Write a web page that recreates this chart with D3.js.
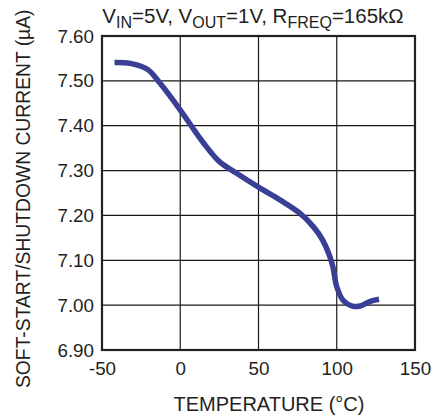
<!DOCTYPE html>
<html><head><meta charset="utf-8">
<script src="https://cdn.jsdelivr.net/npm/d3@7"></script>
<style>
html,body{margin:0;padding:0;background:#fff;}
svg{display:block;font-family:"Liberation Sans",Arial,sans-serif;}
</style></head>
<body>
<svg id="chart" width="437" height="415"></svg>
<script>
const temperature = [-42, -32, -21, -13, 0, 6, 15, 25, 36, 50, 64, 76, 85, 91, 97, 100, 104, 110, 115, 121, 127];
const current = [7.541, 7.539, 7.526, 7.495, 7.435, 7.405, 7.361, 7.320, 7.294, 7.263, 7.234, 7.206, 7.175, 7.145, 7.093, 7.041, 7.011, 6.998, 6.998, 7.008, 7.013];
const xTicks = [-50, 0, 50, 100, 150];
const yTicks = [6.90, 7.00, 7.10, 7.20, 7.30, 7.40, 7.50, 7.60];
const xTitle = "TEMPERATURE (°C)";
const yTitle = "SOFT-START/SHUTDOWN CURRENT (µA)";

const svg = d3.select("#chart");
const L = 102, R = 415, T = 36, B = 350;
const x = d3.scaleLinear().domain([-50, 150]).range([L, R]);
const y = d3.scaleLinear().domain([6.9, 7.6]).range([B, T]);
const fs = 18.8;
const ts = 20;

// grid
const g = svg.append("g");
g.selectAll(".vg").data(xTicks).join("line")
  .attr("x1", d => x(d)).attr("x2", d => x(d)).attr("y1", T).attr("y2", B)
  .attr("stroke", "#1a1a1a").attr("stroke-width", 1.2);
g.selectAll(".hg").data(yTicks).join("line")
  .attr("x1", L).attr("x2", R).attr("y1", d => y(d)).attr("y2", d => y(d))
  .attr("stroke", "#1a1a1a").attr("stroke-width", 1.2);
g.append("rect").attr("x", L).attr("y", T).attr("width", R - L).attr("height", B - T)
  .attr("fill", "none").attr("stroke", "#231f20").attr("stroke-width", 2.2);

// axes labels via d3 axes
const yAxis = svg.append("g").attr("transform", `translate(${L},0)`)
  .call(d3.axisLeft(y).tickValues(yTicks).tickFormat(d3.format(".2f")).tickSize(0).tickPadding(8));
yAxis.select(".domain").remove();
yAxis.selectAll("text").attr("font-size", fs).attr("fill", "#231f20").attr("font-family", "Liberation Sans, Arial, sans-serif");

const xAxis = svg.append("g").attr("transform", `translate(0,${B})`)
  .call(d3.axisBottom(x).tickValues(xTicks).tickFormat(d => String(d)).tickSize(0).tickPadding(12));
xAxis.select(".domain").remove();
xAxis.selectAll("text").attr("font-size", fs).attr("fill", "#231f20").attr("font-family", "Liberation Sans, Arial, sans-serif");

// axis titles
svg.append("text").attr("x", 269).attr("y", 411).attr("text-anchor", "middle")
  .attr("font-size", ts).attr("fill", "#231f20").text(xTitle);
svg.append("text").attr("transform", "translate(30,388) rotate(-90)")
  .attr("text-anchor", "start").attr("font-size", 19.3).attr("fill", "#231f20").text(yTitle);

// title with subscripts
const title = svg.append("text").attr("x", 253).attr("y", 23).attr("text-anchor", "middle")
  .attr("font-size", 20.5).attr("fill", "#231f20");
const parts = [["V",0],["IN",1],["=5V, V",0],["OUT",1],["=1V, R",0],["FREQ",1],["=165kΩ",0]];
let prevSub = 0;
parts.forEach(([t, s]) => {
  const dy = s === prevSub ? 0 : (s ? 5 : -5);
  title.append("tspan").attr("dy", dy).attr("font-size", s ? 16 : 20.5).text(t);
  prevSub = s;
});

// curve
const pts = temperature.map((t, i) => [t, current[i]]);
svg.append("path").datum(pts)
  .attr("fill", "none").attr("stroke", "#3a3f96").attr("stroke-width", 5.5)
  .attr("stroke-linejoin", "round")
  .attr("d", d3.line().x(d => x(d[0])).y(d => y(d[1])).curve(d3.curveCatmullRom.alpha(0.5)));
</script>
</body></html>
